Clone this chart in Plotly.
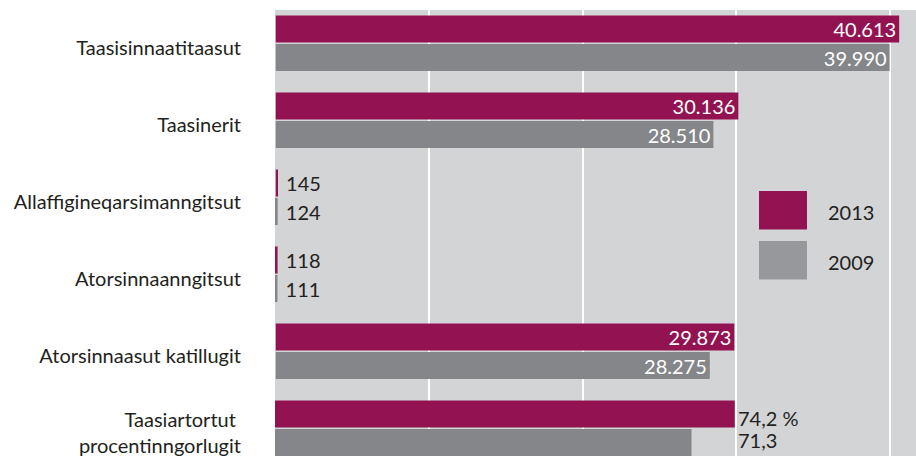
import plotly.graph_objects as go

# ---- data ----
categories = ["Taasisinnaatitaasut", "Taasinerit", "Allaffigineqarsimanngitsut",
              "Atorsinnaanngitsut", "Atorsinnaasut katillugit"]
pct_category = "Taasiartortut <br>procentinngorlugit"
years = ["2013", "2009"]
v2013 = [40613, 30136, 145, 118, 29873]
v2009 = [39990, 28510, 124, 111, 28275]
pct2013 = [74.2]
pct2009 = [71.3]

# ---- style ----
W, H = 916, 456
ML, MT = 275, 10
MAGENTA = "#931352"
GRAY = "#858689"
GRAY_LEGEND = "#97989b"
BG = "#d3d4d6"
DARK = "#231f20"
FONT = "Lato"
FS = 20

all_cats = categories + [pct_category]


def pos(vals):
    return ["inside" if v > 1000 else "outside" for v in vals]


def tcol(vals):
    return ["white" if v > 1000 else DARK for v in vals]


def tmpl(vals):
    return ["%{x:,.0f}" if v > 1000 else " %{x:,.0f}" for v in vals]


fig = go.Figure()
for name, vals, col in [(years[0], v2013, MAGENTA), (years[1], v2009, GRAY)]:
    fig.add_trace(go.Bar(
        y=categories, x=vals, orientation="h", name=name,
        marker=dict(color=col, line=dict(width=0)),
        texttemplate=tmpl(vals), textposition=pos(vals),
        insidetextanchor="end", constraintext="none", cliponaxis=False,
        textfont=dict(family=FONT, size=FS, color=tcol(vals)),
        showlegend=False, xaxis="x", yaxis="y",
    ))

for name, vals, col in [(years[0], pct2013, MAGENTA), (years[1], pct2009, GRAY)]:
    fig.add_trace(go.Bar(
        y=[pct_category], x=vals, orientation="h", name=name,
        marker=dict(color=col, line=dict(width=0)),
        showlegend=False, xaxis="x2", yaxis="y",
    ))

pw = W - ML
ph = H - MT


def px_x(p):
    return (p - ML) / pw


def px_y(p):
    return (H - p) / ph


shapes = []
annotations = []
# percent value labels
annotations.append(dict(x=max(pct2013 + pct2009), y=pct_category, xref="x2", yref="y",
                        text=f"{pct2013[0]:.1f} %".replace(".", ","), showarrow=False,
                        xanchor="left", yanchor="middle", xshift=1, yshift=10,
                        font=dict(family=FONT, size=FS, color=DARK)))
annotations.append(dict(x=max(pct2013 + pct2009), y=pct_category, xref="x2", yref="y",
                        text=f"{pct2009[0]:.1f}".replace(".", ","), showarrow=False,
                        xanchor="left", yanchor="middle", xshift=1, yshift=-12,
                        font=dict(family=FONT, size=FS, color=DARK)))

# custom legend
for i, (yr, col) in enumerate([(years[0], MAGENTA), (years[1], GRAY_LEGEND)]):
    top = 191 + i * 50
    shapes.append(dict(type="rect", xref="paper", yref="paper",
                       x0=px_x(759), x1=px_x(807), y0=px_y(top + 38.5), y1=px_y(top),
                       fillcolor=col, line=dict(width=0)))
    annotations.append(dict(x=px_x(851), y=px_y(top + 21), xref="paper", yref="paper",
                            text=yr, showarrow=False, xanchor="center", yanchor="middle",
                            font=dict(family=FONT, size=FS, color=DARK)))

fig.update_layout(
    width=W, height=H,
    margin=dict(l=ML, r=0, t=MT, b=0, pad=0),
    paper_bgcolor="white", plot_bgcolor=BG,
    barmode="group", bargap=0.26, bargroupgap=0.05,
    separators=",.",
    hovermode=False,
    font=dict(family=FONT, size=FS, color=DARK),
    xaxis=dict(range=[-50, 41710], dtick=10000, showgrid=True, gridcolor="white",
               gridwidth=1.5, zeroline=False, showticklabels=False, showline=False,
               fixedrange=True),
    xaxis2=dict(range=[43.4, 86.34], overlaying="x", side="top", showgrid=False,
                zeroline=False, showticklabels=False, showline=False, visible=False),
    yaxis=dict(type="category", categoryorder="array", categoryarray=all_cats,
               range=[5.36, -0.432], showgrid=False, zeroline=False, showline=False,
               ticks="", ticklabelstandoff=33, ticklabelshift=-5,
               tickfont=dict(family=FONT, size=FS, color=DARK)),
    shapes=shapes, annotations=annotations,
)

fig.write_html("out.html", config={"displayModeBar": False},
               post_script="document.body.style.margin='0';document.body.style.overflow='hidden';")
